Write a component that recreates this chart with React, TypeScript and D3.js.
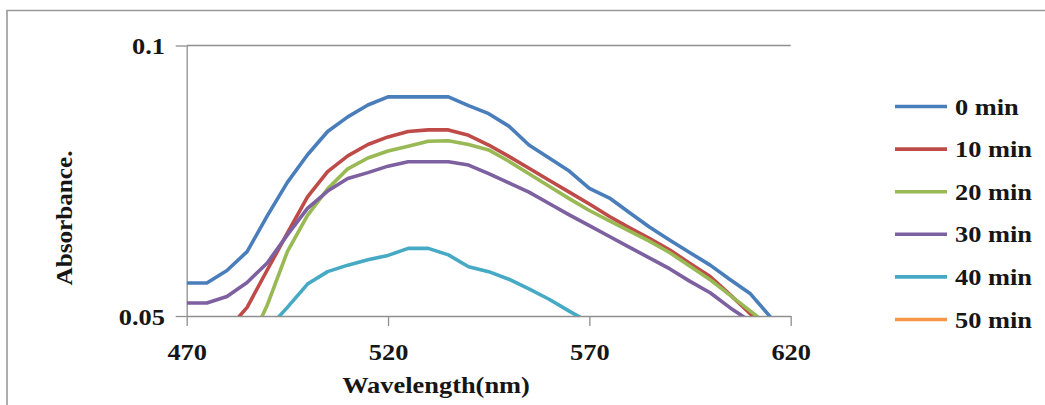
import React, { useEffect, useRef } from 'react';
import * as d3 from 'd3';

// wavelength (nm) sampled every 5 nm
const wavelengths = [470, 475, 480, 485, 490, 495, 500, 505, 510, 515, 520, 525, 530, 535, 540, 545,
  550, 555, 560, 565, 570, 575, 580, 585, 590, 595, 600, 605, 610, 615, 620];

// absorbance per series (values under 0.05 fall outside the plotted range)
const abs0 = [0.0561, 0.0561, 0.0584, 0.0619, 0.0685, 0.0747, 0.0798, 0.0841, 0.0868, 0.0890, 0.0905, 0.0905,
  0.0905, 0.0905, 0.0889, 0.0874, 0.0851, 0.0816, 0.0792, 0.0768, 0.0736, 0.0718, 0.0691, 0.0664, 0.0640,
  0.0617, 0.0594, 0.0567, 0.0541, 0.0498, 0.0470];
const abs10 = [0.0420, 0.0445, 0.0473, 0.0516, 0.0585, 0.0653, 0.0720, 0.0767, 0.0796, 0.0817, 0.0831, 0.0841,
  0.0844, 0.0844, 0.0834, 0.0816, 0.0795, 0.0773, 0.0751, 0.0729, 0.0707, 0.0684, 0.0663, 0.0643, 0.0622,
  0.0597, 0.0573, 0.0539, 0.0504, 0.0470, 0.0440];
const abs20 = [0.0380, 0.0400, 0.0420, 0.0440, 0.0520, 0.0619, 0.0686, 0.0735, 0.0772, 0.0792, 0.0805, 0.0814,
  0.0823, 0.0824, 0.0817, 0.0807, 0.0786, 0.0763, 0.0740, 0.0717, 0.0695, 0.0676, 0.0657, 0.0638, 0.0617,
  0.0592, 0.0567, 0.0538, 0.0509, 0.0480, 0.0450];
const abs30 = [0.0524, 0.0524, 0.0536, 0.0562, 0.0598, 0.0650, 0.0699, 0.0731, 0.0754, 0.0765, 0.0777, 0.0785,
  0.0785, 0.0785, 0.0779, 0.0763, 0.0746, 0.0729, 0.0708, 0.0687, 0.0667, 0.0647, 0.0627, 0.0607, 0.0587,
  0.0564, 0.0543, 0.0515, 0.0490, 0.0470, 0.0450];
const abs40 = [0.0380, 0.0400, 0.0425, 0.0450, 0.0475, 0.0516, 0.0559, 0.0582, 0.0594, 0.0604, 0.0612, 0.0625,
  0.0625, 0.0613, 0.0591, 0.0582, 0.0568, 0.0550, 0.0531, 0.0509, 0.0488, 0.0475, 0.0460, 0.0445, 0.0430,
  0.0415, 0.0400, 0.0385, 0.0370, 0.0355, 0.0340];
const abs50 = [0.0300, 0.0305, 0.0312, 0.0325, 0.0345, 0.0370, 0.0395, 0.0415, 0.0428, 0.0436, 0.0441, 0.0444,
  0.0445, 0.0443, 0.0438, 0.0430, 0.0420, 0.0408, 0.0396, 0.0384, 0.0372, 0.0360, 0.0348, 0.0336, 0.0324,
  0.0312, 0.0300, 0.0288, 0.0276, 0.0264, 0.0252];

const seriesNames = ['0 min', '10 min', '20 min', '30 min', '40 min', '50 min'];
const seriesValues = [abs0, abs10, abs20, abs30, abs40, abs50];
const seriesColors = ['#4a7ebb', '#be4b48', '#98b954', '#7d60a0', '#46aac5', '#f79646'];

const xTicks = [470, 520, 570, 620];
const yTicks = [0.05, 0.1];

const SX = 1.1; // the original text is drawn a bit wide
const FS = 24;

export default function App() {
  const ref = useRef<SVGSVGElement>(null);

  useEffect(() => {
    const svg = d3.select(ref.current);
    svg.selectAll('*').remove();

    const left = 186.7, right = 790.7, top = 45.5, bottom = 316;
    const x = d3.scaleLinear().domain([470, 620]).range([left, right]);
    const y = d3.scaleLinear().domain([0.05, 0.1]).range([bottom, top]);
    const font = 'Liberation Serif, Times New Roman, serif';
    const axisColor = '#8f8f8f';
    const ink = '#161616';

    // outer frame (only top and left visible)
    svg.append('path')
      .attr('d', 'M7,405V10.5H1045')
      .attr('fill', 'none')
      .attr('stroke', '#9a9a9a')
      .attr('stroke-width', 1.6);

    svg.append('defs').append('clipPath').attr('id', 'plotClip')
      .append('rect')
      .attr('x', left).attr('y', top - 5)
      .attr('width', right - left).attr('height', bottom - top + 5);

    // top gridline at 0.1
    svg.append('line')
      .attr('x1', left).attr('x2', right)
      .attr('y1', y(0.1)).attr('y2', y(0.1))
      .attr('stroke', axisColor).attr('stroke-width', 1.3);

    // x axis
    const gx = svg.append('g')
      .attr('transform', `translate(0,${bottom})`)
      .call(d3.axisBottom(x).tickValues(xTicks).tickSizeInner(10).tickSizeOuter(0));
    gx.select('.domain').attr('stroke', axisColor).attr('stroke-width', 1.3);
    gx.selectAll('line').attr('stroke', axisColor).attr('stroke-width', 1.3);
    gx.selectAll('text')
      .attr('y', 44).attr('dy', 0)
      .attr('transform', `scale(${SX},1)`)
      .attr('font-family', font).attr('font-weight', 'bold')
      .attr('font-size', FS).attr('fill', ink);

    // y axis
    const gy = svg.append('g')
      .attr('transform', `translate(${left},0)`)
      .call(d3.axisLeft(y).tickValues(yTicks).tickFormat(d3.format('')).tickSizeInner(11).tickSizeOuter(0));
    gy.select('.domain').attr('stroke', axisColor).attr('stroke-width', 1.3);
    gy.selectAll('line').attr('stroke', axisColor).attr('stroke-width', 1.3);
    gy.selectAll('text')
      .attr('x', -21.7 / SX).attr('dy', 0).attr('y', 8)
      .attr('transform', `scale(${SX},1)`)
      .attr('font-family', font).attr('font-weight', 'bold')
      .attr('font-size', FS).attr('fill', ink);

    // axis titles
    svg.append('text')
      .attr('transform', `translate(436,393) scale(${SX},1)`)
      .attr('text-anchor', 'middle')
      .attr('font-family', font).attr('font-weight', 'bold')
      .attr('font-size', FS).attr('fill', ink)
      .text('Wavelength(nm)');
    svg.append('text')
      .attr('transform', `translate(72,218) rotate(-90) scale(1.05,1)`)
      .attr('text-anchor', 'middle')
      .attr('font-family', font).attr('font-weight', 'bold')
      .attr('font-size', FS).attr('fill', ink)
      .text('Absorbance.');

    // series lines
    const line = d3.line<number>()
      .x((d, i) => x(wavelengths[i]))
      .y(d => y(d));
    const plot = svg.append('g').attr('clip-path', 'url(#plotClip)');
    seriesValues.forEach((vals, i) => {
      plot.append('path')
        .datum(vals)
        .attr('d', line)
        .attr('fill', 'none')
        .attr('stroke', seriesColors[i])
        .attr('stroke-width', 3.6)
        .attr('stroke-linejoin', 'round');
    });

    // legend
    const legend = svg.append('g');
    seriesNames.forEach((name, i) => {
      const ly = 106.5 + i * 42.6;
      legend.append('line')
        .attr('x1', 895).attr('x2', 947)
        .attr('y1', ly).attr('y2', ly)
        .attr('stroke', seriesColors[i]).attr('stroke-width', 3.6);
      legend.append('text')
        .attr('transform', `translate(955,${ly + 8}) scale(${SX},1)`)
        .attr('font-family', font).attr('font-weight', 'bold')
        .attr('font-size', FS).attr('fill', ink)
        .text(name);
    });
  }, []);

  return (
    <svg ref={ref} width={1045} height={405}
         style={{ position: 'absolute', left: 0, top: 0, background: '#fff' }} />
  );
}
